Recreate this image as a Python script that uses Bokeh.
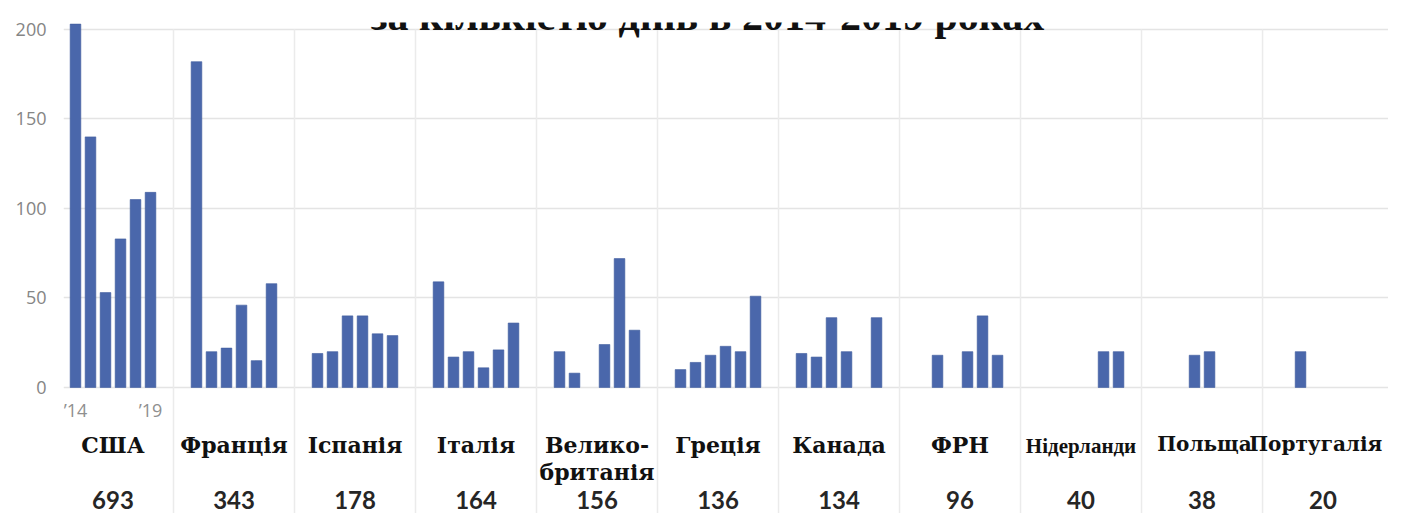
from bokeh.plotting import figure
from bokeh.models import ColumnDataSource, Range1d, FixedTicker, Label
from bokeh.core.properties import value
from bokeh.embed import file_html
from bokeh.resources import INLINE

# ---------------- data ----------------
title_text = "за кількістю днів в 2014-2019 роках"
countries = ["США", "Франція", "Іспанія", "Італія", "Велико-\nбританія", "Греція",
             "Канада", "ФРН", "Нідерланди", "Польща", "Португалія"]
totals = [693, 343, 178, 164, 156, 136, 134, 96, 40, 38, 20]
years = [2014, 2015, 2016, 2017, 2018, 2019]
year_labels = ["’14", "’19"]
y_ticks = [0, 50, 100, 150, 200]

usa = [203, 140, 53, 83, 105, 109]
france = [182, 20, 22, 46, 15, 58]
spain = [19, 20, 40, 40, 30, 29]
italy = [59, 17, 20, 11, 21, 36]
uk = [20, 8, 0, 24, 72, 32]
greece = [10, 14, 18, 23, 20, 51]
canada = [19, 17, 39, 20, 0, 39]
germany = [0, 18, 0, 20, 40, 18]
netherlands = [0, 0, 0, 0, 20, 20]
poland = [0, 0, 18, 20, 0, 0]
portugal = [0, 20, 0, 0, 0, 0]
series = [usa, france, spain, italy, uk, greece, canada, germany, netherlands, poland, portugal]

# ---------------- layout helpers ----------------
STEP = 0.124      # spacing between year bars inside a group (data units)
BAR_W = 0.088
Y_MIN, Y_MAX = -70.4, 203.9

xs, tops = [], []
for gi, vals in enumerate(series):
    for j, v in enumerate(vals):
        if v > 0:
            xs.append(gi + 0.5 + (j - 2.5) * STEP)
            tops.append(v)
bars = ColumnDataSource(dict(x=xs, top=tops))

W, H = 1388, 513
p = figure(width=W, height=H, output_backend="svg", toolbar_location=None,
           x_range=Range1d(0.0909, 11.041), y_range=Range1d(Y_MIN, Y_MAX),
           min_border_left=63, min_border_right=0, min_border_top=22, min_border_bottom=0)
p.outline_line_color = None
p.background_fill_color = "white"
p.border_fill_color = "white"

p.xaxis.visible = False
p.xgrid.visible = False
p.yaxis.ticker = FixedTicker(ticks=y_ticks)
p.ygrid.ticker = FixedTicker(ticks=y_ticks)
p.ygrid.grid_line_color = "#e4e4e4"
p.ygrid.grid_line_width = 1.5
p.yaxis.axis_line_color = None
p.yaxis.major_tick_line_color = None
p.yaxis.minor_tick_line_color = None
p.yaxis.major_tick_out = 0
p.yaxis.major_tick_in = 0
p.yaxis.major_label_standoff = 17
p.yaxis.major_label_text_font = "Open Sans"
p.yaxis.major_label_text_font_size = "18px"
p.yaxis.major_label_text_color = "#858585"

# group separators
seps = list(range(1, len(countries)))
p.segment(x0=seps, y0=[200] * len(seps), x1=seps, y1=[Y_MIN] * len(seps),
          line_color="#ebebeb", line_width=1.5)

p.vbar(x="x", top="top", width=BAR_W, bottom=0, source=bars,
       fill_color="#4a67ab", line_color="#3f5c9e", line_width=0.6)

# year labels under the first group
p.text(x=[0.5 + (0 - 2.5) * STEP, 0.5 + (5 - 2.5) * STEP], y=[-12.8, -12.8], text=year_labels,
       text_align="center", text_baseline="middle", text_font=value("Open Sans"),
       text_font_size="18px", text_color="#8f8f8f")

# country names
centers = [i + 0.5 for i in range(len(countries))]
nl = countries.index("Нідерланди")
pl = countries.index("Польща")
pt = countries.index("Португалія")
main_idx = [i for i in range(len(countries)) if i not in (nl, pl, pt)]
p.text(x=[centers[i] for i in main_idx], y=[-24.6] * len(main_idx),
       text=[countries[i] for i in main_idx], text_align="center", text_baseline="top",
       text_font=value("DejaVu Serif"), text_font_style="bold", text_font_size="22px",
       text_color="#111111", text_line_height=1.05)
p.text(x=[centers[pl] + 0.02, centers[pt] - 0.06], y=[-25.0, -25.0],
       text=[countries[pl], countries[pt]], text_align="center", text_baseline="top",
       text_font=value("DejaVu Serif"), text_font_style="bold", text_font_size="20px",
       text_color="#111111")
p.text(x=[centers[nl]], y=[-25.8], text=[countries[nl]], text_align="center",
       text_baseline="top", text_font=value("Liberation Serif"), text_font_style="bold",
       text_font_size="21px", text_color="#111111")

# totals
p.text(x=centers, y=[-62.8] * len(centers), text=[str(t) for t in totals],
       text_align="center", text_baseline="middle", text_font=value("Lato"),
       text_font_style="bold", text_font_size="24px", text_color="#262626")

# title (cropped at the top as in the original)
p.add_layout(Label(x=5.413, y=207.8, text=title_text, text_align="center",
                   text_baseline="alphabetic", text_font="Liberation Serif",
                   text_font_style="bold", text_font_size="42px", text_color="#111111"))

open("out.html", "w").write(file_html(p, INLINE))
